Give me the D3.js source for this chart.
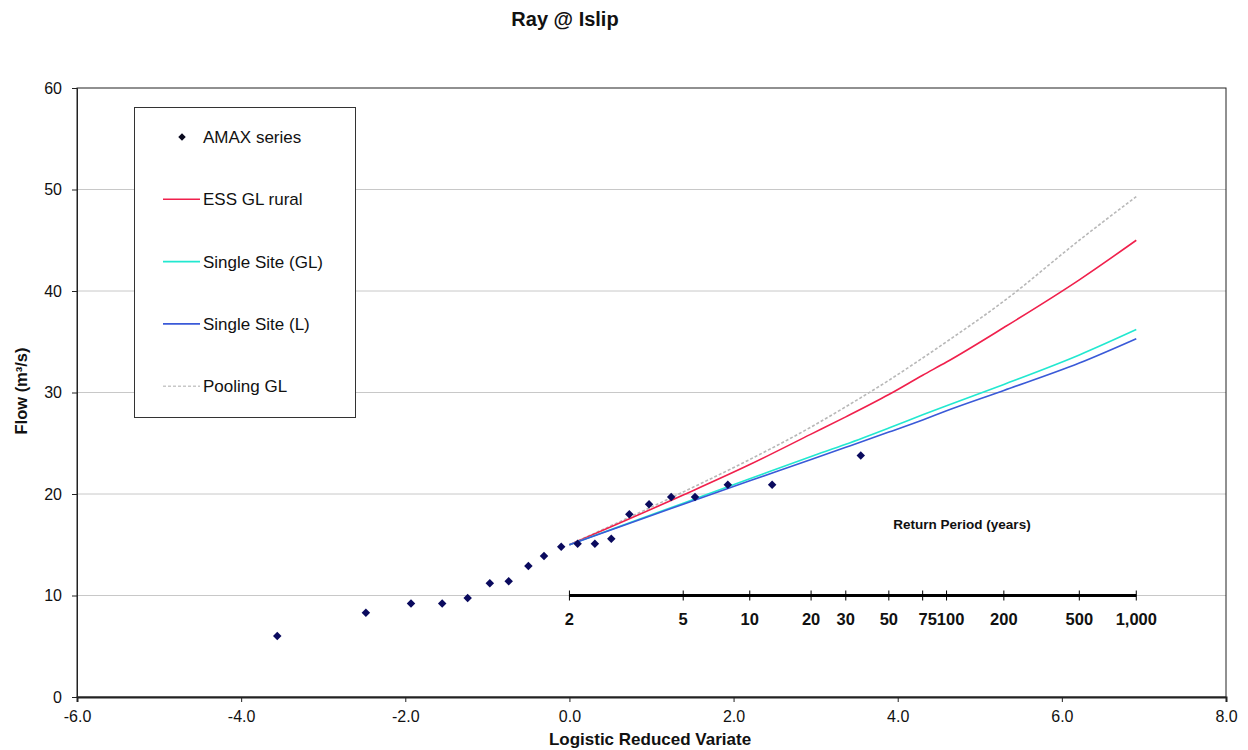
<!DOCTYPE html>
<html lang="en">
<head>
    <meta charset="UTF-8">
    <title>Ray @ Islip</title>
    <script src="https://d3js.org/d3.v7.min.js"></script>
    <style>
        body { margin: 0; background: #fff; }
        text { font-family: "Liberation Sans", Arial, sans-serif; fill: #111; }
        .axis text { font-size: 16px; }
        .axis path, .axis line { stroke: #222; }
        .grid line { stroke: #c8c8c8; }
        .bold { font-weight: bold; }
    </style>
</head>
<body>
    <svg width="1248" height="750"></svg>

    <script>
        // AMAX series (logistic reduced variate, flow)
        const amaxX = [-3.56, -2.48, -1.93, -1.55, -1.24, -0.97, -0.74, -0.50, -0.31, -0.10,
                       0.10, 0.31, 0.51, 0.73, 0.97, 1.24, 1.53, 1.93, 2.47, 3.55];
        const amaxFlow = [6.0, 8.3, 9.2, 9.2, 9.75, 11.2, 11.4, 12.9, 13.9, 14.8,
                          15.1, 15.1, 15.6, 18.0, 19.0, 19.7, 19.7, 20.9, 20.9, 23.8];

        // growth curves read at return periods
        const returnPeriods = [2, 5, 10, 20, 30, 50, 75, 100, 200, 500, 1000];
        const rpLabels = ["2", "5", "10", "20", "30", "50", "75", "100", "200", "500", "1,000"];
        const essGL     = [15.0, 19.9, 22.9, 25.9, 27.6, 29.8, 31.7, 33.0, 36.4, 41.1, 45.0];
        const singleGL  = [15.0, 19.1, 21.5, 23.7, 24.9, 26.5, 27.8, 28.7, 30.8, 33.7, 36.2];
        const singleL   = [15.0, 19.0, 21.3, 23.4, 24.6, 26.1, 27.3, 28.2, 30.2, 32.9, 35.3];
        const poolingGL = [15.0, 20.2, 23.4, 26.6, 28.6, 31.2, 33.4, 35.0, 39.0, 45.0, 49.3];

        const xTicks = [-6, -4, -2, 0, 2, 4, 6, 8];
        const yTicks = [0, 10, 20, 30, 40, 50, 60];

        const margin = { top: 88, right: 22, bottom: 53, left: 77 };
        const width = 1248 - margin.left - margin.right;
        const height = 750 - margin.top - margin.bottom;

        const svg = d3.select("svg")
            .append("g")
            .attr("transform", `translate(${margin.left}, ${margin.top})`);

        const x = d3.scaleLinear().domain([-6, 8]).range([0, width]);
        const y = d3.scaleLinear().domain([0, 60]).range([height, 0]);

        // gridlines
        svg.append("g")
            .attr("class", "grid")
            .selectAll("line")
            .data(yTicks.filter(d => d > 0 && d < 60))
            .enter().append("line")
            .attr("x1", 0).attr("x2", width)
            .attr("y1", d => y(d)).attr("y2", d => y(d));

        // frame
        svg.append("rect")
            .attr("width", width).attr("height", height)
            .attr("fill", "none").attr("stroke", "#222").attr("stroke-width", 1);

        svg.append("g")
            .attr("class", "axis")
            .attr("transform", `translate(0, ${height})`)
            .call(d3.axisBottom(x).tickValues(xTicks).tickSize(5).tickPadding(9))
            .call(g => g.selectAll("text").attr("font-size", "15px").text(d => d.toFixed(1)))
            .call(g => g.select(".domain").attr("stroke-width", 2).attr("stroke", "#555"));

        svg.append("g")
            .attr("class", "axis")
            .call(d3.axisLeft(y).tickValues(yTicks).tickSize(5).tickPadding(10));

        // return period axis along flow = 10
        const rpX = t => x(Math.log(t - 1));
        const rp = svg.append("g");
        rp.append("line")
            .attr("x1", rpX(2)).attr("x2", rpX(1000))
            .attr("y1", y(10)).attr("y2", y(10))
            .attr("stroke", "#000").attr("stroke-width", 3);
        rp.selectAll(".rptick")
            .data(returnPeriods)
            .enter().append("line")
            .attr("x1", d => rpX(d)).attr("x2", d => rpX(d))
            .attr("y1", y(10) - 5).attr("y2", y(10) + 5)
            .attr("stroke", "#000").attr("stroke-width", 1);
        rp.selectAll(".rplabel")
            .data(returnPeriods)
            .enter().append("text")
            .attr("class", "bold")
            .attr("x", d => rpX(d) + (d === 75 ? 5 : d === 100 ? 4 : 0))
            .attr("y", y(10) + 29)
            .attr("text-anchor", "middle")
            .attr("font-size", "16.5px")
            .text((d, i) => rpLabels[i]);
        svg.append("text")
            .attr("class", "bold")
            .attr("x", 962 - margin.left).attr("y", 529 - margin.top)
            .attr("text-anchor", "middle")
            .attr("font-size", "13.5px")
            .text("Return Period (years)");

        // curves
        const rpXs = returnPeriods.map(t => Math.log(t - 1));
        const line = d3.line()
            .x(d => x(d[0])).y(d => y(d[1]))
            .curve(d3.curveMonotoneX);
        const series = [
            { name: "Pooling GL", vals: poolingGL, color: "#b8b8b8", dash: "3,2", w: 1.6 },
            { name: "ESS GL rural", vals: essGL, color: "#f0204c", dash: null, w: 1.6 },
            { name: "Single Site (GL)", vals: singleGL, color: "#22e8d0", dash: null, w: 1.6 },
            { name: "Single Site (L)", vals: singleL, color: "#3a5ad8", dash: null, w: 1.6 }
        ];
        series.forEach(s => {
            svg.append("path")
                .datum(rpXs.map((v, i) => [v, s.vals[i]]))
                .attr("d", line)
                .attr("fill", "none")
                .attr("stroke", s.color)
                .attr("stroke-width", s.w)
                .attr("stroke-dasharray", s.dash);
        });

        // AMAX points
        const diamond = d3.symbol().type(d3.symbolDiamond2).size(46);
        svg.selectAll(".pt")
            .data(amaxX.map((v, i) => [v, amaxFlow[i]]))
            .enter().append("path")
            .attr("d", diamond)
            .attr("transform", d => `translate(${x(d[0])}, ${y(d[1])})`)
            .attr("fill", "#0a0a5e");

        // legend
        const lg = d3.select("svg").append("g");
        lg.append("rect")
            .attr("x", 134.5).attr("y", 107.5).attr("width", 221).attr("height", 310)
            .attr("fill", "#fff").attr("stroke", "#333").attr("stroke-width", 1);
        const legendItems = [
            { name: "AMAX series", type: "point" },
            { name: "ESS GL rural", color: "#f0204c" },
            { name: "Single Site (GL)", color: "#22e8d0" },
            { name: "Single Site (L)", color: "#3a5ad8" },
            { name: "Pooling GL", color: "#c8c8c8", dash: "3,2" }
        ];
        const legendDiamond = d3.symbol().type(d3.symbolDiamond2).size(36);
        legendItems.forEach((d, i) => {
            const cy = 137 + i * 62.3;
            if (d.type === "point") {
                lg.append("path").attr("d", legendDiamond)
                    .attr("transform", `translate(182, ${cy})`)
                    .attr("fill", "#0a0a1e");
            } else {
                lg.append("line")
                    .attr("x1", 163).attr("x2", 200)
                    .attr("y1", cy).attr("y2", cy)
                    .attr("stroke", d.color).attr("stroke-width", 1.6)
                    .attr("stroke-dasharray", d.dash || null);
            }
            lg.append("text")
                .attr("x", 203).attr("y", cy + 6)
                .attr("font-size", "17px")
                .text(d.name);
        });

        // titles
        d3.select("svg").append("text")
            .attr("class", "bold")
            .attr("x", 565).attr("y", 26)
            .attr("text-anchor", "middle")
            .attr("font-size", "20px")
            .text("Ray @ Islip");

        d3.select("svg").append("text")
            .attr("class", "bold")
            .attr("x", 650).attr("y", 745)
            .attr("text-anchor", "middle")
            .attr("font-size", "17px")
            .text("Logistic Reduced Variate");

        d3.select("svg").append("text")
            .attr("class", "bold")
            .attr("transform", "translate(27, 391) rotate(-90)")
            .attr("text-anchor", "middle")
            .attr("font-size", "16.5px")
            .text("Flow (m³/s)");
    </script>
</body>
</html>
